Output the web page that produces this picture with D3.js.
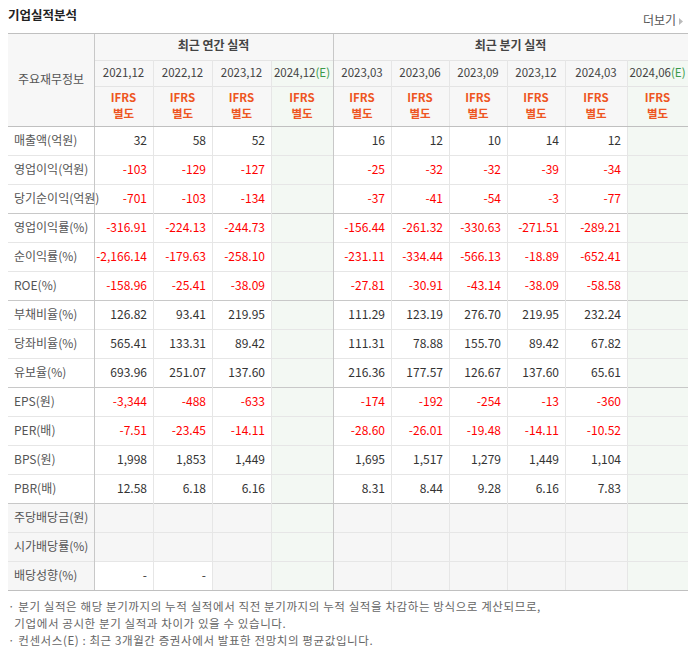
<!DOCTYPE html>
<html><head><meta charset="utf-8">
<script src="https://cdn.jsdelivr.net/npm/d3@7"></script>
<style>body{margin:0;background:#fff}text{font-family:"Noto Sans CJK KR",sans-serif}</style>
</head><body><svg id="c" width="694" height="648"></svg>
<script>
const periods=["2021.12","2022.12","2023.12","2024.12","2023.03","2023.06","2023.09","2023.12","2024.03","2024.06"];
const estimate=[false,false,false,true,false,false,false,false,false,true];
const rowLabels=["매출액(억원)","영업이익(억원)","당기순이익(억원)","영업이익률(%)","순이익률(%)","ROE(%)","부채비율(%)","당좌비율(%)","유보율(%)","EPS(원)","PER(배)","BPS(원)","PBR(배)","주당배당금(원)","시가배당률(%)","배당성향(%)"];
const values=[
["32","58","52","","16","12","10","14","12",""],
["-103","-129","-127","","-25","-32","-32","-39","-34",""],
["-701","-103","-134","","-37","-41","-54","-3","-77",""],
["-316.91","-224.13","-244.73","","-156.44","-261.32","-330.63","-271.51","-289.21",""],
["-2,166.14","-179.63","-258.10","","-231.11","-334.44","-566.13","-18.89","-652.41",""],
["-158.96","-25.41","-38.09","","-27.81","-30.91","-43.14","-38.09","-58.58",""],
["126.82","93.41","219.95","","111.29","123.19","276.70","219.95","232.24",""],
["565.41","133.31","89.42","","111.31","78.88","155.70","89.42","67.82",""],
["693.96","251.07","137.60","","216.36","177.57","126.67","137.60","65.61",""],
["-3,344","-488","-633","","-174","-192","-254","-13","-360",""],
["-7.51","-23.45","-14.11","","-28.60","-26.01","-19.48","-14.11","-10.52",""],
["1,998","1,853","1,449","","1,695","1,517","1,279","1,449","1,104",""],
["12.58","6.18","6.16","","8.31","8.44","9.28","6.16","7.83",""],
[null,null,null,null,null,null,null,null,null,null],
[null,null,null,null,null,null,null,null,null,null],
["-","-",null,null,null,null,null,null,null,null]];
const notes=["· 분기 실적은 해당 분기까지의 누적 실적에서 직전 분기까지의 누적 실적을 차감하는 방식으로 계산되므로,","  기업에서 공시한 분기 실적과 차이가 있을 수 있습니다.","· 컨센서스(E) : 최근 3개월간 증권사에서 발표한 전망치의 평균값입니다."];

const svg=d3.select("#c");
const colEdges=[94,153,212,271,333,391,449,507,565,627,688];
const L=8,R=688,yTop=33,h1=60,h2=86,h3=126,rh=29;
const y=d3.scaleBand().domain(d3.range(rowLabels.length)).range([h3,h3+rh*rowLabels.length]);
const gBottom=h3+rh*rowLabels.length;

svg.append("text").attr("x",8).attr("y",20).attr("font-size",12.5).attr("font-weight","bold").attr("fill","#222").text("기업실적분석");
svg.append("text").attr("x",676).attr("y",25).attr("font-size",12).attr("text-anchor","end").attr("fill","#555").text("더보기");
svg.append("path").attr("d","M679,18 L683,21.5 L679,25Z").attr("fill","#bbb");

svg.append("rect").attr("x",L).attr("y",yTop).attr("width",R-L).attr("height",h3-yTop).attr("fill","#f7f7f7");
periods.forEach((p,i)=>{
  const x0=colEdges[i],x1=colEdges[i+1];
  if(estimate[i]) svg.append("rect").attr("x",x0).attr("y",h1).attr("width",x1-x0).attr("height",gBottom-h1).attr("fill","#f3f8f3");
});
values.forEach((r,ri)=>{
  r.forEach((v,ci)=>{
    if(v===null&&!estimate[ci]) svg.append("rect").attr("x",colEdges[ci]).attr("y",y(ri)).attr("width",colEdges[ci+1]-colEdges[ci]).attr("height",rh).attr("fill","#f6f6f6");
  });
  if(r.some(v=>v===null)) svg.append("rect").attr("x",L).attr("y",y(ri)).attr("width",colEdges[0]-L).attr("height",rh).attr("fill","#f6f6f6");
});

const line=(x1,y1,x2,y2,c)=>svg.append("line").attr("x1",x1).attr("y1",y1).attr("x2",x2).attr("y2",y2).attr("stroke",c).attr("stroke-width",1).attr("shape-rendering","crispEdges");
line(colEdges[0],h1,R,h1,"#e4e4e4");
line(colEdges[0],h2,R,h2,"#e4e4e4");
rowLabels.forEach((_,i)=>{ if(i>0){const strong=[3,6,9,13].includes(i); line(L,y(i),R,y(i),strong?"#c8c8c8":"#e6e6e6");}});
colEdges.slice(1,-1).forEach(x=>{ line(x,h1,x,gBottom,(x===333)?"#c8c8c8":"#e6e6e6"); });
line(333,yTop,333,h1,"#c8c8c8");
line(colEdges[0],yTop,colEdges[0],gBottom,"#c8c8c8");
line(L,yTop,R,yTop,"#c0c0c0");
line(L,h3,R,h3,"#c0c0c0");
line(L,gBottom,R,gBottom,"#c0c0c0");

svg.append("text").attr("x",(L+colEdges[0])/2).attr("y",(yTop+h3)/2+4).attr("text-anchor","middle").attr("font-size",12).attr("fill","#555").text("주요재무정보");
svg.append("text").attr("x",(94+333)/2).attr("y",50).attr("text-anchor","middle").attr("font-size",12).attr("font-weight","bold").attr("fill","#444").text("최근 연간 실적");
svg.append("text").attr("x",(333+688)/2).attr("y",50).attr("text-anchor","middle").attr("font-size",12).attr("font-weight","bold").attr("fill","#444").text("최근 분기 실적");
periods.forEach((p,i)=>{
  const cx=(colEdges[i]+colEdges[i+1])/2;
  const t=svg.append("text").attr("x",cx).attr("y",77).attr("text-anchor","middle").attr("font-size",11.5).attr("fill","#444");
  t.append("tspan").text(p.replace(".",","));
  if(estimate[i]) t.append("tspan").attr("fill","#3a9a4a").text("(E)");
  svg.append("text").attr("x",cx).attr("y",102).attr("text-anchor","middle").attr("font-size",11.5).attr("font-weight","bold").attr("fill","#ee5522").text("IFRS");
  svg.append("text").attr("x",cx).attr("y",118).attr("text-anchor","middle").attr("font-size",11.5).attr("font-weight","bold").attr("fill","#ee5522").text("별도");
});
rowLabels.forEach((lab,ri)=>{
  const yc=y(ri)+rh/2+4;
  svg.append("text").attr("x",14).attr("y",yc).attr("font-size",12).attr("fill","#555").text(lab);
  values[ri].forEach((v,ci)=>{
    if(!v) return;
    svg.append("text").attr("x",colEdges[ci+1]-6).attr("y",yc).attr("text-anchor","end").attr("font-size",12)
      .attr("fill",v.startsWith("-")&&v.length>1?"#ff0000":"#333").text(v);
  });
});
notes.forEach((n,i)=>{
  svg.append("text").attr("x",8).attr("y",611+i*17).attr("font-size",11.5).attr("fill","#666").attr("letter-spacing",0.6).attr("xml:space","preserve").text(n);
});
</script></body></html>
